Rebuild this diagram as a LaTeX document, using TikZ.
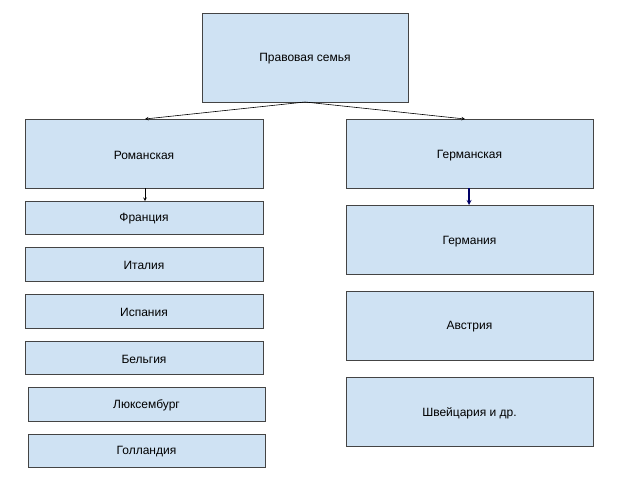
\documentclass[tikz,border=0pt]{standalone}
\usepackage{fontspec}
\setmainfont{Liberation Sans}
\definecolor{boxfill}{HTML}{CFE2F3}
\definecolor{boxline}{HTML}{444444}
\begin{document}
\begin{tikzpicture}[x=1pt,y=-1pt,
  bx/.style={draw=boxline,fill=boxfill,line width=0.8pt},
  lb/.style={font=\fontsize{12}{14}\selectfont,yshift=-1.5pt},
  arr/.style={-stealth,line width=0.6pt}]
\useasboundingbox[fill=white] (0,0) rectangle (621,488);
\draw[bx] (202,13) rectangle (408,102); \node[lb] (n0) at (305,57.5) {Правовая семья};
\draw[bx] (25,119) rectangle (263,188); \node[lb] (n1) at (144,154) {Романская};
\draw[bx] (346,119) rectangle (593,188); \node[lb] (n2) at (469.5,154) {Германская};
\draw[bx] (25,201) rectangle (263,234); \node[lb] (n3) at (144,217.5) {Франция};
\draw[bx] (25,247) rectangle (263,281); \node[lb] (n4) at (144,264) {Италия};
\draw[bx] (25,294) rectangle (263,328); \node[lb] (n5) at (144,311) {Испания};
\draw[bx] (25,341) rectangle (263,374); \node[lb] (n6) at (144,357.5) {Бельгия};
\draw[bx] (28,387) rectangle (265,421); \node[lb] (n7) at (146.5,404) {Люксембург};
\draw[bx] (28,434) rectangle (265,467); \node[lb] (n8) at (146.5,450.5) {Голландия};
\draw[bx] (346,205) rectangle (593,274); \node[lb] (n9) at (469.5,240) {Германия};
\draw[bx] (346,291) rectangle (593,360); \node[lb] (n10) at (469.5,325.5) {Австрия};
\draw[bx] (346,377) rectangle (593,446); \node[lb] (n11) at (469.5,411.5) {Швейцария и др.};
\coordinate (t) at (305,102);
\coordinate (r) at (145,119);
\coordinate (g) at (465,119);
\coordinate (r1) at (145,188);
\coordinate (f) at (145,201);
\coordinate (g1) at (469,188);
\coordinate (gg) at (469,205);
\draw[arr] (t) -- (r);
\draw[arr] (t) -- (g);
\draw[arr] (r1) -- (f);
\draw[arr,draw=blue!40!black,line width=1.2pt] (g1) -- (gg);
\end{tikzpicture}
\end{document}
